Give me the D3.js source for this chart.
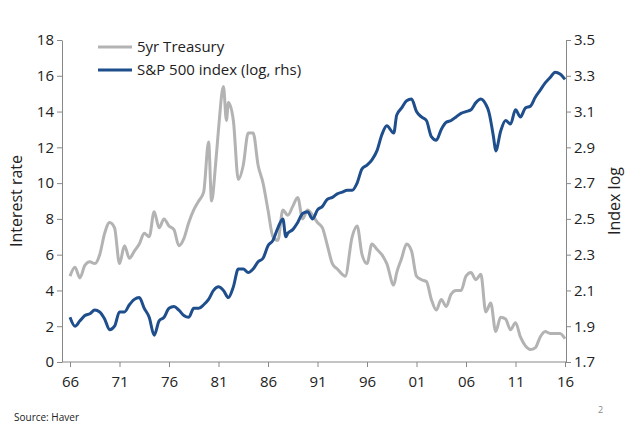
<!DOCTYPE html><html><head><meta charset="utf-8"><script src="https://cdn.jsdelivr.net/npm/d3@7"></script>
<style>body{margin:0;background:#fff}text{font-family:"Open Sans","Liberation Sans",sans-serif}</style></head><body><svg id="c" width="640" height="433"></svg><script>
const xTicks=[1966,1971,1976,1981,1986,1991,1996,2001,2006,2011,2016];
const xTickLabels=["66","71","76","81","86","91","96","01","06","11","16"];
const leftTicks=[0,2,4,6,8,10,12,14,16,18];
const rightTicks=[1.7,1.9,2.1,2.3,2.5,2.7,2.9,3.1,3.3,3.5];
const tsyYears=[1966,1966.5,1967,1967.5,1968,1968.5,1969,1969.5,1970,1970.5,1971,1971.5,1972,1972.5,1973,1973.5,1974,1974.5,1975,1975.5,1976,1976.5,1977,1977.5,1978,1978.5,1979,1979.5,1980,1980.3,1980.7,1981,1981.5,1981.8,1982,1982.5,1983,1983.5,1984,1984.5,1985,1985.5,1986,1986.5,1987,1987.5,1988,1988.5,1989,1989.5,1990,1990.5,1991,1991.5,1992,1992.5,1993,1993.8,1994.5,1995,1995.5,1996,1996.5,1997,1997.5,1998,1998.7,1999,1999.5,2000,2000.5,2001,2001.5,2002,2002.5,2003,2003.5,2004,2004.5,2005,2005.5,2006,2006.5,2007,2007.5,2008,2008.5,2009,2009.5,2010,2010.5,2011,2011.5,2012,2012.5,2013,2013.5,2014,2014.5,2015,2015.5,2016];
const tsyValues=[4.8,5.3,4.7,5.4,5.6,5.5,6.0,7.2,7.8,7.5,5.5,6.5,5.8,6.2,6.6,7.2,7.0,8.4,7.5,8.0,7.6,7.4,6.5,6.9,7.8,8.5,9.0,9.5,12.3,9.0,11.0,13.0,15.4,13.5,14.5,13.5,10.2,11.0,12.8,12.8,11.0,10.0,8.5,7.0,6.8,8.5,8.2,8.7,9.2,8.0,8.5,8.2,7.8,7.5,6.5,5.5,5.2,4.8,7.0,7.6,6.0,5.5,6.6,6.3,6.0,5.5,4.3,5.0,5.8,6.6,6.2,4.8,4.6,4.5,3.5,2.9,3.5,3.1,3.8,4.0,4.0,4.8,5.0,4.6,4.9,2.8,3.3,1.7,2.5,2.4,1.8,2.2,1.4,0.9,0.7,0.8,1.4,1.7,1.6,1.6,1.6,1.3];
const spxYears=[1966,1966.5,1967,1967.5,1968,1968.5,1969,1969.5,1970,1970.5,1971,1971.5,1972,1972.5,1973,1973.5,1974,1974.5,1975,1975.5,1976,1976.5,1977,1977.5,1978,1978.5,1979,1979.5,1980,1980.5,1981,1981.5,1982,1982.5,1983,1983.5,1984,1984.5,1985,1985.5,1986,1986.5,1987,1987.5,1987.8,1988,1988.5,1989,1989.5,1990,1990.5,1991,1991.5,1992,1992.5,1993,1993.5,1994,1994.5,1995,1995.5,1996,1996.5,1997,1997.5,1998,1998.7,1999,1999.5,2000,2000.5,2001,2001.5,2002,2002.5,2003,2003.5,2004,2004.5,2005,2005.5,2006,2006.5,2007,2007.5,2008,2008.3,2008.8,2009,2009.5,2010,2010.5,2011,2011.5,2012,2012.5,2013,2013.5,2014,2014.5,2015,2015.5,2016];
const spxValues=[1.95,1.9,1.93,1.96,1.97,1.99,1.98,1.94,1.88,1.90,1.98,1.98,2.02,2.05,2.06,2.0,1.95,1.85,1.93,1.95,2.0,2.01,1.99,1.96,1.95,2.0,2.0,2.02,2.05,2.1,2.12,2.1,2.06,2.12,2.22,2.22,2.2,2.22,2.26,2.28,2.35,2.38,2.45,2.50,2.40,2.42,2.44,2.48,2.53,2.54,2.50,2.55,2.57,2.61,2.62,2.64,2.65,2.66,2.66,2.70,2.78,2.80,2.83,2.88,2.97,3.02,2.98,3.08,3.12,3.16,3.17,3.10,3.07,3.05,2.96,2.94,3.0,3.04,3.05,3.07,3.09,3.10,3.11,3.15,3.17,3.14,3.10,2.95,2.88,2.99,3.05,3.03,3.11,3.07,3.12,3.13,3.18,3.22,3.26,3.29,3.32,3.31,3.28];

const svg=d3.select("#c");
const L=62,R=566,T=40,B=362;
const x=d3.scaleLinear().domain([1966,2016]).range([L+8,R-1]);
const yL=d3.scaleLinear().domain([0,18]).range([B,T]);
const yR=d3.scaleLinear().domain([1.7,3.5]).range([B,T]);
const xa=svg.append("g").attr("transform",`translate(0,${B})`).call(d3.axisBottom(x).tickValues(xTicks).tickFormat((d,i)=>xTickLabels[i]).tickSize(5).tickSizeOuter(0));
xa.select(".domain").attr("d",`M${L},0H${R}`);
const la=svg.append("g").attr("transform",`translate(${L},0)`).call(d3.axisLeft(yL).tickValues(leftTicks).tickSize(5).tickSizeOuter(0));
const ra=svg.append("g").attr("transform",`translate(${R},0)`).call(d3.axisRight(yR).tickValues(rightTicks).tickFormat(d3.format(".1f")).tickSize(5).tickSizeOuter(0));
svg.selectAll(".domain,.tick line").attr("stroke","#888");
svg.selectAll(".tick text").attr("font-size",15).attr("fill","#222");
xa.selectAll(".tick text").attr("dy","1.1em");
const lineT=d3.line().x((d,i)=>x(tsyYears[i])).y(d=>yL(d)).curve(d3.curveMonotoneX);
const lineS=d3.line().x((d,i)=>x(spxYears[i])).y(d=>yR(d)).curve(d3.curveMonotoneX);
svg.append("path").attr("d",lineT(tsyValues)).attr("fill","none").attr("stroke","#b3b3b3").attr("stroke-width",3);
svg.append("path").attr("d",lineS(spxValues)).attr("fill","none").attr("stroke","#1f4e8c").attr("stroke-width",3);
const lg=[["5yr Treasury","#b3b3b3",47],["S&P 500 index (log, rhs)","#1f4e8c",70]];
lg.forEach(([t,c,yy])=>{svg.append("line").attr("x1",98).attr("x2",132).attr("y1",yy).attr("y2",yy).attr("stroke",c).attr("stroke-width",3);
svg.append("text").attr("x",137).attr("y",yy+5).attr("font-size",15).attr("fill","#222").text(t);});
svg.append("text").attr("transform","translate(22,201) rotate(-90)").attr("text-anchor","middle").attr("font-size",16).attr("fill","#222").text("Interest rate");
svg.append("text").attr("transform","translate(620,201) rotate(-90)").attr("text-anchor","middle").attr("font-size",16).attr("fill","#222").text("Index log");
svg.append("text").attr("x",14).attr("y",421).attr("font-size",10).attr("fill","#222").text("Source: Haver");
svg.append("text").attr("x",598).attr("y",413).attr("font-size",9).attr("fill","#888").text("2");
</script></body></html>
